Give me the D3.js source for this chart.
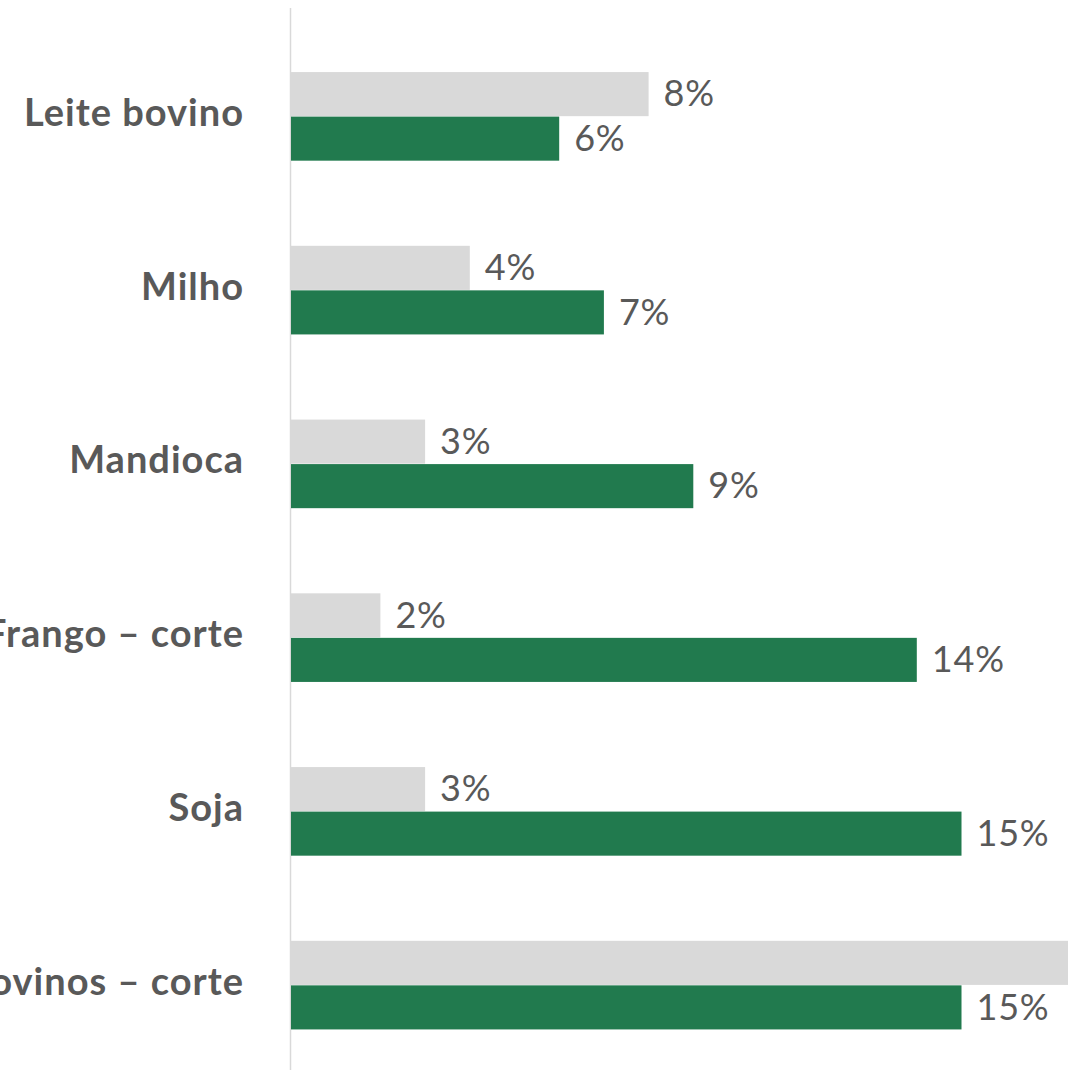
<!DOCTYPE html>
<html>
<head>
<meta charset="utf-8">
<script src="https://cdn.jsdelivr.net/npm/d3@7"></script>
<style>
  html, body { margin: 0; padding: 0; background: #fff; }
  svg { display: block; }
</style>
</head>
<body>
<svg width="1068" height="1070"></svg>
<script>
// categories top to bottom
var categories = ["Leite bovino", "Milho", "Mandioca", "Frango \u2013 corte", "Soja", "Bovinos \u2013 corte"];
var series = ["anterior", "atual"];
// gray series (first bar of each pair)
var grayValues = [8, 4, 3, 2, 3, 22];
// green series (second bar)
var greenValues = [6, 7, 9, 14, 15, 15];
var grayLabels = ["8%", "4%", "3%", "2%", "3%", "22%"];
var greenLabels = ["6%", "7%", "9%", "14%", "15%", "15%"];

var colors = { anterior: "#d9d9d9", atual: "#217a4e" };

var svg = d3.select("svg"),
    width = +svg.attr("width"),
    height = +svg.attr("height");

var rows = categories.map(function(c, i) {
  return { cat: c, values: [
    { key: "anterior", v: grayValues[i], label: grayLabels[i] },
    { key: "atual", v: greenValues[i], label: greenLabels[i] }
  ]};
});

var x = d3.scaleLinear().domain([0, 20]).range([291, 291 + 894]);

var y0 = d3.scaleBand()
    .domain(categories)
    .range([29.5, 1072])
    .paddingInner(0.49)
    .paddingOuter(0.245);

var y1 = d3.scaleBand()
    .domain(series)
    .range([0, y0.bandwidth()])
    .paddingInner(0.01);

// vertical axis line
svg.append("line")
    .attr("x1", 290.5).attr("x2", 290.5)
    .attr("y1", 8).attr("y2", height)
    .attr("stroke", "#d9d9d9")
    .attr("stroke-width", 1.5);

var group = svg.append("g").selectAll("g")
    .data(rows)
    .enter().append("g")
      .attr("transform", function(d) { return "translate(0," + y0(d.cat) + ")"; });

group.selectAll("rect")
    .data(function(d) { return d.values; })
    .enter().append("rect")
      .attr("x", x(0))
      .attr("y", function(d) { return y1(d.key); })
      .attr("width", function(d) { return x(d.v) - x(0); })
      .attr("height", y1.bandwidth())
      .attr("fill", function(d) { return colors[d.key]; });

group.selectAll("text.val")
    .data(function(d) { return d.values; })
    .enter().append("text")
      .attr("class", "val")
      .attr("x", function(d) { return x(d.v) + 15; })
      .attr("y", function(d) { return y1(d.key) + y1.bandwidth() / 2; })
      .attr("dy", "0.34em")
      .attr("fill", "#595959")
      .style("font-family", "Lato, 'Open Sans', sans-serif")
      .style("font-size", "36px")
      .style("letter-spacing", "0.8px")
      .text(function(d) { return d.label; });

// category labels
svg.append("g").selectAll("text")
    .data(categories)
    .enter().append("text")
      .attr("x", 244)
      .attr("y", function(d) { return y0(d) + y0.bandwidth() / 2; })
      .attr("dy", "0.25em")
      .attr("text-anchor", "end")
      .attr("fill", "#595959")
      .style("font-family", "Lato, 'Open Sans', sans-serif")
      .style("font-weight", "bold")
      .style("font-size", "38px")
      .style("letter-spacing", "1px")
      .text(function(d) { return d; });
</script>
</body>
</html>
